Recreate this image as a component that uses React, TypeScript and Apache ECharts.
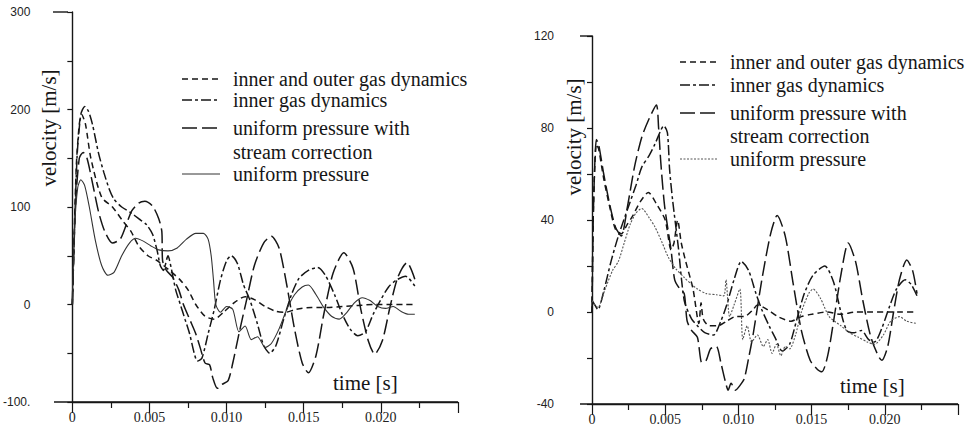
import React, { useEffect, useRef } from "react";
import * as echarts from "echarts";

// ---------- data (time in ms, velocity in m/s) ----------
// Left panel
const L_IOGD_T = [0, 0.25, 0.45, 0.6, 0.85, 1.2, 1.9, 2.6, 3.3, 3.8, 4.3, 4.9, 5.5, 6.3, 7.0, 7.5, 8.0, 8.6, 9.2, 9.8, 10.5, 11.2, 11.8, 12.5, 13.2, 13.8, 14.5, 15.5, 16.5, 17.5, 18.5, 19.5, 20.5, 21.5, 22.2];
const L_IOGD_V = [0, 140, 185, 195, 185, 150, 110, 100, 85, 75, 60, 50, 45, 35, 25, 15, 0, -12, -15, -8, 2, 8, 5, -2, -7, -8, -5, -3, -3, -2, -1, 0, 0, 0, 0];

const L_IGD_T = [0, 0.3, 0.55, 0.8, 1.05, 1.3, 1.7, 2.05, 2.4, 2.7, 3.2, 3.8, 4.3, 4.8, 5.2, 5.5, 5.7, 5.9, 6.2, 6.4, 6.7, 7.0, 7.3, 7.6, 7.9, 8.1, 8.4, 8.8, 9.2, 9.6, 10.0, 10.3, 10.7, 11.1, 11.5, 12.0, 12.4, 12.8, 13.2, 13.7, 14.2, 14.7, 15.3, 15.9, 16.4, 17.0, 17.5, 18.0, 18.5, 19.0, 19.5, 20.0, 20.5, 21.0, 21.6, 22.2];
const L_IGD_V = [0, 150, 195, 203, 198, 185, 155, 135, 118, 108, 100, 94, 88, 82, 72, 55, 40, 35, 50, 38, 15, 0, -15, -30, -50, -58, -55, -30, -5, 25, 45, 50, 42, 20, 5, -20, -42, -50, -42, -15, 10, 27, 35, 38, 30, 10, -10, -25, -32, -28, -10, 5, 18, 25, 29, 19];

const L_UPSC_T = [0, 0.2, 0.45, 0.7, 0.95, 1.3, 1.7, 2.1, 2.6, 3.1, 3.5, 3.85, 4.3, 4.7, 5.2, 5.6, 5.8, 5.85, 6.1, 6.5, 6.9, 7.2, 7.6, 8.0, 8.3, 8.6, 8.9, 9.1, 9.4, 9.7, 10.1, 10.4, 10.8, 11.3, 11.8, 12.4, 12.9, 13.4, 13.9, 14.4, 14.9, 15.3, 15.8, 16.3, 16.9, 17.6, 18.2, 18.7, 19.2, 19.6, 20.1, 20.6, 21.1, 21.7, 22.2];
const L_UPSC_V = [0, 100, 150, 156, 150, 125, 95, 75, 63, 67, 82, 96, 104, 106, 101, 88, 75, 45, 35, 28, 15, 0, -15, -30, -45, -60, -62, -75, -86, -82, -78, -60, -30, 5, 40, 63, 70, 58, 20, -25, -60, -70, -52, -10, 32, 53, 37, -5, -38, -51, -37, -2, 28, 43, 26];

const L_UP_T = [0, 0.15, 0.35, 0.55, 0.8, 1.1, 1.5, 1.9, 2.3, 2.7, 3.2, 3.7, 4.1, 4.6, 5.1, 5.6, 6.2, 6.8, 7.4, 8.0, 8.5, 8.8, 9.0, 9.15, 9.3, 9.6, 10.0, 10.4, 10.8, 11.2, 11.6, 12.0, 12.5, 12.9, 13.4, 13.9, 14.4, 14.9, 15.3, 15.8, 16.3, 16.8, 17.3, 17.8, 18.3, 18.8, 19.3, 19.8, 20.3, 20.8, 21.3, 21.8, 22.2];
const L_UP_V = [0, 80, 120, 128, 122, 100, 65, 40, 30, 33, 50, 63, 68, 65, 60, 56, 55, 58, 67, 73, 73, 67, 50, 25, 0, -8, -2, -5, -28, -22, -36, -33, -44, -40, -25, -5, 10, 18, 20, 10, -3, -12, -15, -8, 2, 7, 4, -2, -4, -2, -7, -10, -10];

// Right panel
const R_IOGD_T = [0, 0.1, 0.3, 0.45, 0.8, 1.2, 1.6, 2.0, 2.4, 2.8, 3.3, 3.85, 4.4, 5.0, 5.4, 5.6, 5.85, 6.1, 6.4, 6.9, 7.3, 7.45, 7.6, 8.0, 8.6, 9.2, 9.8, 10.4, 11.0, 11.3, 12.0, 12.7, 13.6, 14.3, 15.0, 16.0, 17.0, 18.0, 19.0, 20.0, 21.0, 22.2];
const R_IOGD_V = [0, 45, 73, 71, 58, 46, 36, 34, 38, 42, 48, 52, 47, 40, 27, 30, 40, 30, 22, 10, -5, 4, -3, -6, -6, -4, -2, -2, 1, 3, 1, -2, -4, -2, -1, 0, -1, 0, 0, 0, 0, 0];

const R_IGD_T = [0, 0.2, 0.4, 0.8, 1.3, 1.8, 2.5, 3.0, 3.4, 3.9, 4.3, 4.7, 4.9, 5.15, 5.3, 5.5, 5.9, 6.3, 6.8, 7.2, 7.7, 8.3, 8.8, 9.2, 9.7, 10.2, 10.7, 11.2, 11.6, 12.1, 12.5, 13.0, 13.5, 14.0, 14.5, 15.1, 15.9, 16.5, 17.0, 17.4, 17.9, 18.4, 18.9, 19.3, 19.8, 20.3, 20.8, 21.4, 21.8, 22.2];
const R_IGD_V = [5, 3, 1, 9, 22, 33, 46, 55, 63, 68, 73, 79, 81, 78, 62, 49, 28, 5, -3, -6, -9, -10, -4, 3, 14, 22, 18, 8, 1, -6, -11, -17, -14, -3, 8, 16, 20, 13, 0, -8, -9, -8, -12, -13, -7, 2, 10, 14, 12, 7];

const R_UPSC_T = [0, 0.1, 0.3, 0.45, 0.8, 1.2, 1.6, 2.0, 2.4, 2.9, 3.4, 3.9, 4.4, 4.55, 4.7, 4.96, 5.4, 5.65, 6.0, 6.3, 6.5, 6.8, 7.2, 7.5, 7.8, 8.1, 8.5, 8.8, 9.1, 9.3, 9.5, 9.8, 10.1, 10.4, 10.7, 11.0, 11.6, 12.2, 12.65, 13.2, 13.75, 14.3, 14.9, 15.4, 15.7, 16.1, 16.6, 17.0, 17.5, 18.0, 18.5, 19.1, 19.8, 20.2, 20.6, 21.0, 21.5, 21.9, 22.2];
const R_UPSC_V = [0, 45, 75, 73, 60, 47, 37, 33, 45, 63, 76, 84, 90, 80, 65, 46, 27, 14, 10, 8, -4, -8, -11, -22, -21, -16, -15, -22, -30, -34, -31, -34, -32, -29, -20, -10, 14, 34, 42, 33, 12, -8, -21, -25, -26, -19, 0, 16, 30, 22, 5, -12, -21, -15, 0, 14, 22.6, 18, 8];

const R_UP_T = [0, 0.2, 0.4, 0.9, 1.4, 1.8, 2.2, 2.6, 3.0, 3.4, 3.9, 4.3, 4.8, 5.2, 5.7, 6.3, 6.8, 7.2, 7.8, 8.5, 9.0, 9.15, 9.4, 9.7, 10.1, 10.3, 10.6, 10.9, 11.3, 11.7, 12.0, 12.3, 12.6, 12.9, 13.2, 13.5, 13.9, 14.3, 14.8, 15.1, 15.6, 16.2, 17.0, 17.6, 18.2, 18.8, 19.3, 19.9, 20.4, 21.0, 21.5, 22.2];
const R_UP_V = [5, 3, 2, 10, 18, 22, 30, 38, 43, 45, 41, 37, 30, 24, 19, 15, 12, 10, 8, 7.5, 7, 14, -2, 3, 10, -12, -6, -13, -10, -15, -12, -18, -14, -19, -15, -16, -10, 0, 8, 10, 6, -2, -6, -9, -11, -13, -14, -10, -4, -2, -4, -5];

const X_TICK_LABELS = ["0", "0.005", "0.010", "0.015", "0.020", ""];
const L_Y_LABELS: Record<string, string> = { "300": "300", "200": "200", "100": "100", "0": "0", "-100": "-100." };
const R_Y_LABELS: Record<string, string> = { "120": "120", "80": "80", "40": "40", "0": "0", "-40": "-40" };

const LEGEND_NAMES = [
  "inner and outer gas dynamics",
  "inner gas dynamics",
  "uniform pressure with",
  "stream correction",
  "uniform pressure",
];

const INK = "#161616";
const SERIF = "Liberation Serif, DejaVu Serif, serif";
const SANS = "Liberation Sans, Arial, sans-serif";

const DASH_SHORT = [6, 4];
const DASH_DOT = [10, 3, 3, 3];
const DASH_LONG = [15, 5];

function pairs(t: number[], v: number[]) {
  return t.map((x, i) => [x / 1000, v[i]]);
}

function xLabel(v: number) {
  const k = Math.round(v / 0.005);
  return X_TICK_LABELS[k] ?? "";
}

export default function App() {
  const ref = useRef<HTMLDivElement>(null);
  useEffect(() => {
    if (!ref.current) return;
    const chart = echarts.init(ref.current, undefined, { renderer: "svg" });

    const axisLine = { show: true, onZero: false, lineStyle: { color: INK, width: 1.4 } };

    const xAxisBase = (gridIndex: number) => ({
      type: "value",
      gridIndex,
      position: "bottom",
      min: 0,
      max: 0.025,
      interval: 0.005,
      axisLine,
      axisTick: { show: true, inside: false, length: 11, lineStyle: { color: INK, width: 1.2 } },
      minorTick: { show: true, splitNumber: 2, length: 6, lineStyle: { color: INK, width: 1.2 } },
      splitLine: { show: false },
      minorSplitLine: { show: false },
      axisLabel: {
        show: true,
        margin: 8,
        color: "#222",
        fontFamily: SERIF,
        fontSize: 14,
        formatter: xLabel,
        showMaxLabel: true,
        showMinLabel: true,
      },
    });

    const yAxisBase = (gridIndex: number, min: number, max: number, interval: number, margin: number, labels: Record<string, string>) => ({
      type: "value",
      gridIndex,
      position: "left",
      min,
      max,
      interval,
      axisLine,
      axisTick: { show: true, inside: false, length: 5, lineStyle: { color: INK, width: 1.2 } },
      minorTick: { show: true, splitNumber: 2, length: 5, lineStyle: { color: INK, width: 1.2 } },
      splitLine: { show: false },
      minorSplitLine: { show: false },
      axisLabel: {
        margin,
        color: "#222",
        fontFamily: SANS,
        fontSize: 12,
        formatter: (v: number) => labels[String(Math.round(v))] ?? "",
      },
    });

    const mkSeries = (
      name: string,
      data: number[][],
      idx: number,
      type: any,
      width: number,
      color: string
    ) => ({
      type: "line",
      name,
      xAxisIndex: idx,
      yAxisIndex: idx,
      data,
      showSymbol: false,
      smooth: 0.25,
      lineStyle: { color, width, type },
      emphasis: { disabled: true },
      silent: true,
    });

    const serifText = (text: string, size: number, extra: any) => ({
      type: "text",
      silent: true,
      ...extra,
      style: {
        text,
        fontFamily: SERIF,
        fontSize: size,
        fill: INK,
        verticalAlign: "middle",
        align: extra.align || "left",
      },
    });

    const legendGraphic = (sx: number, tx: number, rows: number[], upDash: any, upColor: string) => {
      const styles: any[] = [DASH_SHORT, DASH_DOT, DASH_LONG, null, upDash];
      const els: any[] = [];
      rows.forEach((y, i) => {
        const st = styles[i];
        if (i !== 3) {
          els.push({
            type: "line",
            shape: { x1: sx, y1: y, x2: sx + 38, y2: y },
            style: {
              stroke: i === 4 ? upColor : INK,
              lineWidth: i === 4 ? 1 : 1.5,
              lineDash: st === "solid" ? null : st,
            },
            silent: true,
          });
        }
        els.push(serifText(LEGEND_NAMES[i], 20, { x: tx, y }));
      });
      return els;
    };

    const seg = (x1: number, y1: number, x2: number, y2: number) => ({
      type: "line",
      shape: { x1, y1, x2, y2 },
      style: { stroke: INK, lineWidth: 1.4 },
      silent: true,
    });

    const option: any = {
      animation: false,
      backgroundColor: "#ffffff",
      grid: [
        { left: 68, top: 12, width: 390, height: 390 },
        { left: 592, top: 36, width: 366, height: 368 },
      ],
      xAxis: [xAxisBase(0), xAxisBase(1)],
      yAxis: [
        yAxisBase(0, -100, 300, 100, 42, L_Y_LABELS),
        yAxisBase(1, -40, 120, 40, 38, R_Y_LABELS),
      ],
      series: [
        mkSeries("inner and outer gas dynamics", pairs(L_IOGD_T, L_IOGD_V), 0, DASH_SHORT, 1.5, INK),
        mkSeries("inner gas dynamics", pairs(L_IGD_T, L_IGD_V), 0, DASH_DOT, 1.5, INK),
        mkSeries("uniform pressure with stream correction", pairs(L_UPSC_T, L_UPSC_V), 0, DASH_LONG, 1.5, INK),
        mkSeries("uniform pressure", pairs(L_UP_T, L_UP_V), 0, "solid", 1.1, "#333"),
        mkSeries("inner and outer gas dynamics", pairs(R_IOGD_T, R_IOGD_V), 1, DASH_SHORT, 1.5, INK),
        mkSeries("inner gas dynamics", pairs(R_IGD_T, R_IGD_V), 1, DASH_DOT, 1.5, INK),
        mkSeries("uniform pressure with stream correction", pairs(R_UPSC_T, R_UPSC_V), 1, DASH_LONG, 1.5, INK),
        mkSeries("uniform pressure", pairs(R_UP_T, R_UP_V), 1, [2, 1.5], 1.1, "#555"),
      ],
      graphic: [
        // axis extensions (as in the original drawing)
        seg(53, 12, 68, 12),
        seg(54, 402, 458, 402),
        seg(580, 36, 592, 36),
        seg(580, 404, 958, 404),
        // axis names
        serifText("velocity [m/s]", 21, { x: 49, y: 128, rotation: Math.PI / 2, align: "center" }),
        serifText("velocity [m/s]", 21, { x: 574, y: 137, rotation: Math.PI / 2, align: "center" }),
        serifText("time [s]", 21, { x: 333, y: 383 }),
        serifText("time [s]", 21, { x: 840, y: 386 }),
        ...legendGraphic(182, 233, [79, 100, 128, 152, 174], "solid", "#333"),
        ...legendGraphic(680, 730, [62, 85, 113, 136, 159], [2, 1.5], "#555"),
      ],
    };

    chart.setOption(option);
    return () => chart.dispose();
  }, []);

  return (
    <div
      ref={ref}
      style={{ position: "fixed", left: 0, top: 0, width: 971, height: 438, background: "#fff" }}
    />
  );
}
